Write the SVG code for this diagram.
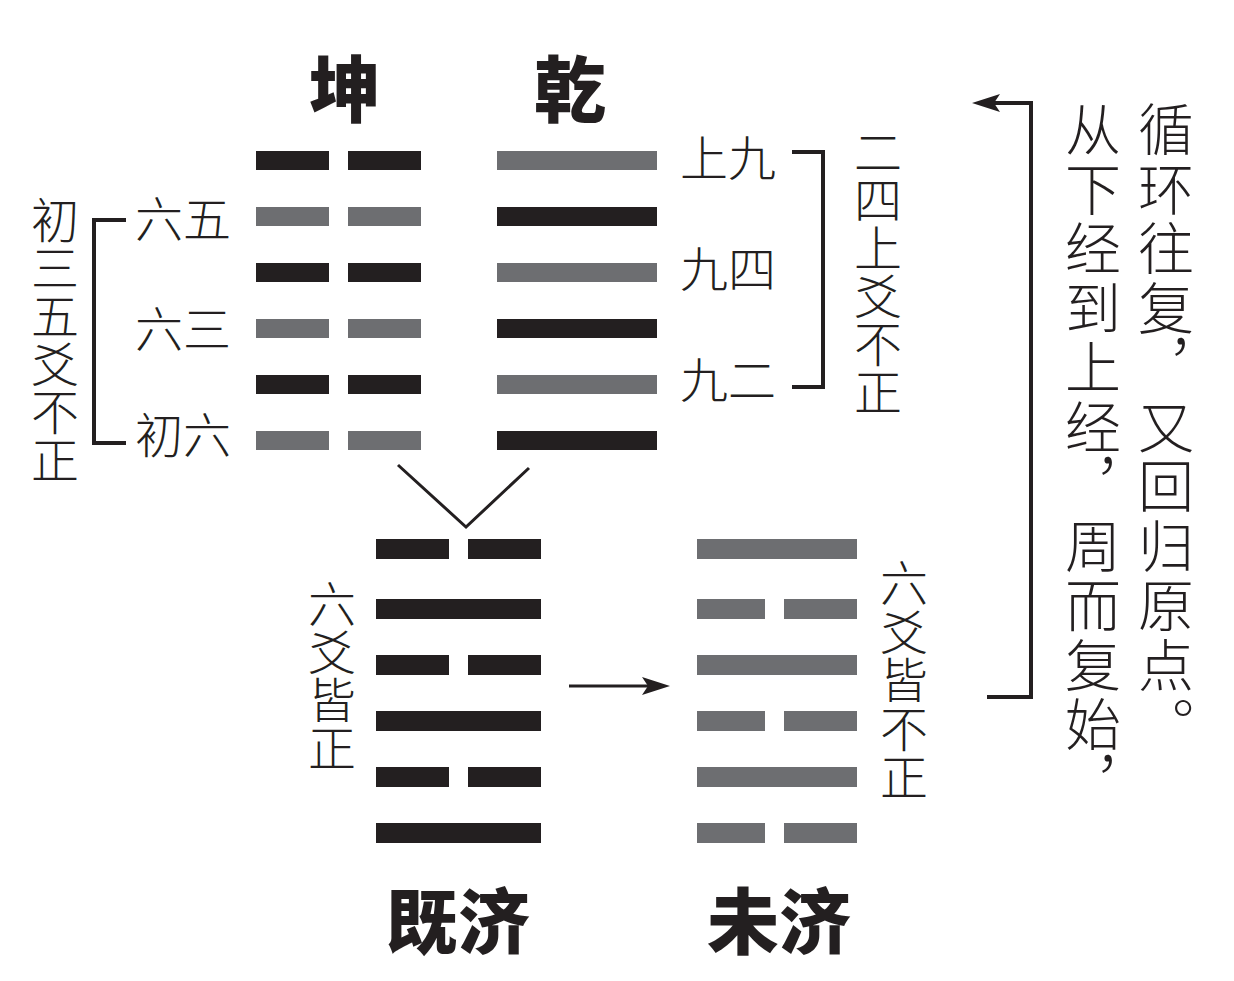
<svg xmlns="http://www.w3.org/2000/svg" width="1234" height="981" viewBox="0 0 1234 981">
<style>
.blk{fill:#231f20}
.gry{fill:#6d6e71}
.title{font-family:"Noto Sans CJK SC","Noto Sans CJK TC",sans-serif;font-weight:900;font-size:72px;fill:#231f20;text-anchor:middle}
.lbl{font-family:"Noto Sans CJK SC","Noto Sans CJK TC",sans-serif;font-weight:300;font-size:48px;fill:#231f20;text-anchor:middle}
.vcol{font-family:"Noto Sans CJK SC","Noto Sans CJK TC",sans-serif;font-weight:300;font-size:56px;letter-spacing:3.5px;fill:#231f20;writing-mode:vertical-rl}
.ln{fill:none;stroke:#231f20;stroke-width:4}
.thin{fill:none;stroke:#231f20;stroke-width:3}
</style>
<defs>
<marker id="ah" markerUnits="userSpaceOnUse" viewBox="0 0 28 20" markerWidth="28" markerHeight="20" refX="6" refY="10" orient="auto">
<path d="M0,1 L28,10 L0,19 L6,10 Z" fill="#231f20"/>
</marker>
</defs>
<rect width="1234" height="981" fill="#ffffff"/>

<g id="kun">
<text class="title" x="345" y="116">坤</text>
<rect class="blk" x="256" y="151" width="73" height="19"/><rect class="blk" x="348" y="151" width="73" height="19"/>
<rect class="gry" x="256" y="207" width="73" height="19"/><rect class="gry" x="348" y="207" width="73" height="19"/>
<rect class="blk" x="256" y="263" width="73" height="19"/><rect class="blk" x="348" y="263" width="73" height="19"/>
<rect class="gry" x="256" y="319" width="73" height="19"/><rect class="gry" x="348" y="319" width="73" height="19"/>
<rect class="blk" x="256" y="375" width="73" height="19"/><rect class="blk" x="348" y="375" width="73" height="19"/>
<rect class="gry" x="256" y="431" width="73" height="19"/><rect class="gry" x="348" y="431" width="73" height="19"/>
</g>

<g id="qian">
<text class="title" x="570" y="116">乾</text>
<rect class="gry" x="497" y="151" width="160" height="19"/>
<rect class="blk" x="497" y="207" width="160" height="19"/>
<rect class="gry" x="497" y="263" width="160" height="19"/>
<rect class="blk" x="497" y="319" width="160" height="19"/>
<rect class="gry" x="497" y="375" width="160" height="19"/>
<rect class="blk" x="497" y="431" width="160" height="19"/>
</g>

<g id="jiji">
<rect class="blk" x="376" y="539" width="73" height="20"/><rect class="blk" x="468" y="539" width="73" height="20"/>
<rect class="blk" x="376" y="599" width="165" height="20"/>
<rect class="blk" x="376" y="655" width="73" height="20"/><rect class="blk" x="468" y="655" width="73" height="20"/>
<rect class="blk" x="376" y="711" width="165" height="20"/>
<rect class="blk" x="376" y="767" width="73" height="20"/><rect class="blk" x="468" y="767" width="73" height="20"/>
<rect class="blk" x="376" y="823" width="165" height="20"/>
<text class="title" x="458" y="948">既济</text>
</g>

<g id="weiji">
<rect class="gry" x="697" y="539" width="160" height="20"/>
<rect class="gry" x="697" y="599" width="68" height="20"/><rect class="gry" x="784" y="599" width="73" height="20"/>
<rect class="gry" x="697" y="655" width="160" height="20"/>
<rect class="gry" x="697" y="711" width="68" height="20"/><rect class="gry" x="784" y="711" width="73" height="20"/>
<rect class="gry" x="697" y="767" width="160" height="20"/>
<rect class="gry" x="697" y="823" width="68" height="20"/><rect class="gry" x="784" y="823" width="73" height="20"/>
<text class="title" x="779" y="948">未济</text>
</g>

<g id="kun-labels">
<text class="lbl" x="183" y="237">六五</text>
<text class="lbl" x="183" y="347">六三</text>
<text class="lbl" x="183" y="453">初六</text>
</g>

<g id="kun-note">
<text class="lbl"><tspan x="55" y="238">初</tspan><tspan x="55" y="286">三</tspan><tspan x="55" y="334">五</tspan><tspan x="55" y="382">爻</tspan><tspan x="55" y="430">不</tspan><tspan x="55" y="478">正</tspan></text>
</g>

<g id="qian-labels">
<text class="lbl" x="728" y="176">上九</text>
<text class="lbl" x="728" y="287">九四</text>
<text class="lbl" x="728" y="398">九二</text>
</g>

<g id="qian-note">
<text class="lbl"><tspan x="878" y="170">二</tspan><tspan x="878" y="218">四</tspan><tspan x="878" y="266">上</tspan><tspan x="878" y="314">爻</tspan><tspan x="878" y="362">不</tspan><tspan x="878" y="410">正</tspan></text>
</g>

<g id="jiji-note">
<text class="lbl"><tspan x="332" y="622">六</tspan><tspan x="332" y="670">爻</tspan><tspan x="332" y="718">皆</tspan><tspan x="332" y="766">正</tspan></text>
</g>

<g id="weiji-note">
<text class="lbl"><tspan x="904" y="601">六</tspan><tspan x="904" y="650">爻</tspan><tspan x="904" y="698">皆</tspan><tspan x="904" y="747">不</tspan><tspan x="904" y="795">正</tspan></text>
</g>

<g id="cycle-note">
<text class="vcol" x="1166" y="101">循环往复，又回归原点。</text>
<text class="vcol" x="1093" y="101">从下经到上经，周而复始，</text>
</g>

<g id="connectors">
<path class="ln" d="M126,220 H94 V443 H126"/>
<path class="ln" d="M792,152 H823 V387 H792"/>
<path class="thin" d="M398,465 L466,527 L529,468"/>
<path class="thin" d="M569,686 H648" marker-end="url(#ah)"/>
<path class="ln" d="M987,697 H1031 V103 H994" marker-end="url(#ah)"/>
</g>
</svg>
